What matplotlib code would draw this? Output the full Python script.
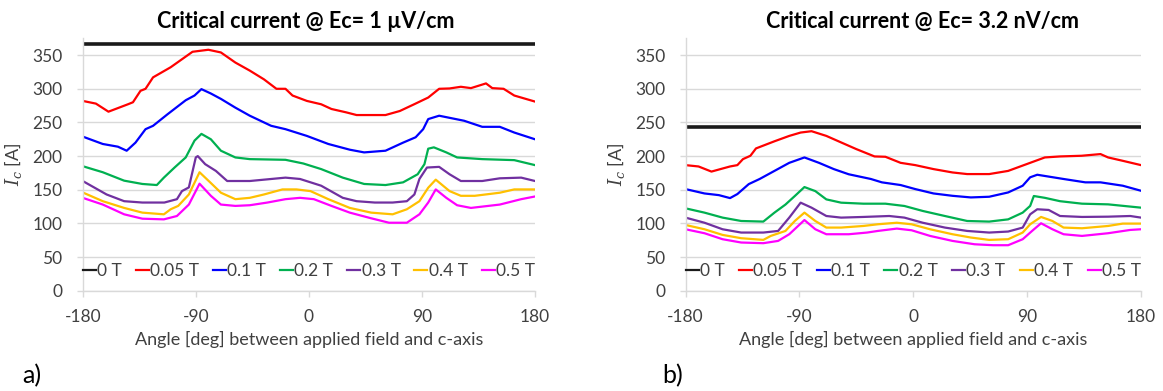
import matplotlib
matplotlib.use("Agg")
import matplotlib.pyplot as plt
from matplotlib.lines import Line2D

plt.rcParams["font.family"] = ["Lato", "DejaVu Sans"]
plt.rcParams["mathtext.fontset"] = "dejavuserif"
plt.rcParams["axes.unicode_minus"] = False

# ---- panel a) Ec = 1 uV/cm ----
a_0T_val = 366
a_005_ang = [-180, -169.5, -159.5, -144, -140, -134, -130, -124, -110, -92.6, -80, -70, -58.5, -47,
             -35.7, -25.8, -18.6, -13, -1.6, 9.8, 18, 29.7, 38, 61, 72.4, 83.8, 95, 103.7, 112, 121,
             129, 141, 146, 155, 163.5, 180]
a_005_val = [282, 278, 266, 277, 280, 297, 300, 317, 332, 355, 358, 354, 339, 327,
             314, 300, 300, 290, 282, 277, 270, 265, 261, 261, 267, 277, 287, 300, 300.5, 303,
             301, 308, 301, 300, 290, 281]
a_01_ang = [-180, -164, -152, -145, -138, -130, -124, -112.6, -98, -91, -85.5, -78, -70, -58.5, -47,
            -30, -18.6, -1.6, 15.5, 32.6, 44, 61, 75, 85, 91, 95, 103.7, 123.6, 138, 152, 163.5, 180]
a_01_val = [229, 218, 214, 208, 220, 240, 245, 262, 283, 290, 299.5, 293, 285, 272, 260,
            245, 240, 230, 218, 209.5, 205.5, 208, 220, 228, 240, 255, 260, 252.5, 243.5, 243.5, 235, 225]
a_02_ang = [-180, -164, -147, -132.5, -121, -115.4, -106.9, -98, -91, -85.5, -78, -70, -58.5, -47,
            -18.6, -4.4, 9.8, 27, 44, 61, 75, 86.6, 92, 95, 99.5, 109.4, 118, 138, 163.5, 180]
a_02_val = [185, 176, 163.5, 158.6, 157, 168, 183, 198, 223, 233, 225, 208, 198, 195.5,
            194.5, 189, 180.7, 168, 158.6, 157, 161, 173, 188, 211, 213, 205.5, 198, 195.5, 194, 186.6]
a_03_ang = [-180, -161, -147, -132.5, -115, -105, -101, -95.5, -90, -88.4, -82.5, -74, -65, -47,
            -18.6, -7, 9.8, 27, 38, 52.5, 66.7, 78, 84, 88, 94, 103.7, 112, 121, 138, 152, 169, 180]
a_03_val = [163, 143, 133, 131, 131, 136, 148, 153.5, 198, 200, 188, 178, 163, 163,
            168, 166, 156, 138, 133, 131, 131, 133, 143, 166, 183, 184, 173, 163, 163, 167, 168, 163]
a_04_ang = [-180, -164, -147, -132.5, -115.4, -110, -104, -95.5, -87, -78, -70, -58.5, -47, -35.7,
            -21, -9.9, 1.3, 15.5, 32.6, 49.6, 66.7, 78, 88, 95, 101, 112, 121, 132, 152, 163.5, 180]
a_04_val = [146, 133, 123, 116, 113.5, 121, 126, 143, 176, 160, 145.6, 136, 138, 143,
            150.5, 150.5, 148, 136, 123, 116, 113.5, 121, 133, 153, 165, 148, 141, 141, 145.6, 150.5, 150.5]
a_05_ang = [-180, -164, -147, -132.5, -115.4, -105, -95.5, -87, -78, -70, -58.5, -47, -33, -18.6,
            -7, 4, 18, 32.6, 49.6, 63.8, 78, 88, 95, 101, 109.4, 118, 129, 152, 169, 180]
a_05_val = [138, 128, 113.5, 107, 106, 111, 128, 159, 141, 128, 126, 127, 131, 136,
            138, 136, 126, 116, 107.6, 101, 101, 113.5, 131, 150.5, 138, 127, 123, 128, 136, 140]

# ---- panel b) Ec = 3.2 nV/cm ----
b_0T_val = 243
b_005_ang = [-180, -169.7, -159.5, -144.8, -139, -134.6, -128.7, -124.3, -109.7, -98, -89, -80.4,
             -68.7, -57, -45, -30.6, -22, -10, 1.6, 16, 31, 42.6, 60, 75, 89.5, 104, 116, 133,
             148, 154, 165.6, 180]
b_005_val = [186.6, 184.6, 177, 184.6, 186.6, 195.5, 200.5, 211.4, 222, 230, 235, 237,
             230, 220.3, 210.4, 199.5, 199, 190, 186.6, 180.7, 175.7, 173.3, 173.3, 178, 188, 198, 199.5, 200.5,
             203, 198, 193, 186.6]
b_01_ang = [-180, -165, -153.6, -144.8, -139, -130, -121.4, -109.7, -98, -86, -74.5, -62.8, -51,
            -33.5, -24.8, -10, 1.6, 16, 31, 45.5, 60, 75, 86.5, 92.4, 98, 118.8, 136, 148, 165.6, 180]
b_01_val = [151, 144.5, 142, 137.6, 143.6, 158.4, 166, 178, 190, 198, 190, 180.7, 173,
            166, 161, 157, 151, 144.5, 141, 138.6, 139.6, 146, 156, 168.5, 172.3, 166, 161, 161, 156, 148.5]
b_02_ang = [-180, -165, -150.7, -136, -118.5, -109.7, -101, -93.6, -86, -77.4, -68.7, -57, -39.4,
            -22, -7, 7.5, 25, 42.6, 60, 75, 86.5, 92.4, 95.3, 104, 116, 133.4, 154, 180]
b_02_val = [122.4, 116, 108.6, 103.6, 102.7, 116, 128, 140.7, 154, 148, 135.7, 130.8, 129.3,
            129.3, 125.9, 118.5, 111, 103.6, 102.7, 106, 116, 126, 140.7, 138, 133, 129.3, 128.3, 123.4]
b_03_ang = [-180, -165, -150.7, -136, -118.5, -106.8, -98, -89, -80.4, -68.7, -57, -39.4, -19,
            -7, 7.5, 25, 42.6, 60, 75, 86.5, 92.4, 98, 107, 116, 133.4, 154, 171.5, 180]
b_03_val = [108.6, 101, 91.3, 86.4, 86.4, 88.8, 108.6, 130.8, 123.4, 111, 108.6, 109.6, 111,
            108.6, 101, 93.8, 88.8, 86.4, 87.9, 93.8, 113.5, 121, 120, 111, 109.6, 110, 111, 108.6]
b_04_ang = [-180, -165, -150.7, -136, -118.5, -112.6, -101, -93.6, -86, -77.4, -68.7, -57, -39.4,
            -28, -13, -1.3, 13.3, 31, 45.5, 60, 75, 86.5, 92.4, 101, 110, 118.8, 133.4, 154, 165.6, 180]
b_04_val = [97.7, 91.3, 82.9, 78, 75.5, 81.4, 88.8, 103.6, 116, 103.6, 93.8, 93.8, 96.2,
            98.7, 101, 98.7, 91.3, 83.9, 79, 75.5, 76.5, 86.4, 98.7, 109.6, 103.6, 93.8, 92.8, 96.2, 99.7, 99.7]
b_05_ang = [-180, -165, -150.7, -136, -118.5, -106.8, -98, -86, -77.4, -68.7, -51, -36.5, -28,
            -13, -1.3, 13.3, 31, 48.5, 63, 75, 86.5, 93.9, 101, 110, 118.8, 133.4, 154, 171.5, 180]
b_05_val = [91.3, 85.4, 76.5, 71.6, 70.6, 74, 83.9, 105, 91.3, 83.9, 83.9, 86.4, 88.8,
            92.3, 89.8, 81.4, 74, 69, 67.6, 67.6, 76.5, 88.8, 100.2, 91.3, 83.9, 81.4, 85.4, 90.3, 91.3]

labels = ["0 T", "0.05 T", "0.1 T", "0.2 T", "0.3 T", "0.4 T", "0.5 T"]
colors = ["#1A1A1A", "#FF0000", "#0000FF", "#00B050", "#7030A0", "#FFC000", "#FF00FF"]
titles = ["Critical current @ Ec= 1 µV/cm", "Critical current @ Ec= 3.2 nV/cm"]
xticks = [-180, -90, 0, 90, 180]
yticks = list(range(0, 351, 50))

panels = [
    (a_0T_val, [(a_005_ang, a_005_val), (a_01_ang, a_01_val), (a_02_ang, a_02_val),
                (a_03_ang, a_03_val), (a_04_ang, a_04_val), (a_05_ang, a_05_val)]),
    (b_0T_val, [(b_005_ang, b_005_val), (b_01_ang, b_01_val), (b_02_ang, b_02_val),
                (b_03_ang, b_03_val), (b_04_ang, b_04_val), (b_05_ang, b_05_val)]),
]

W, H = 1163, 391
fig = plt.figure(figsize=(W / 100, H / 100), dpi=100)
axes = [fig.add_axes([82.7 / W, 0.2565, 452.3 / W, 0.6455]),
        fig.add_axes([685.5 / W, 0.2565, 455.5 / W, 0.6455])]
title_x = [306, 923]
panel_tags = [("a)", 22), ("b)", 662)]

grey = "#D9D9D9"
txt = "#404040"
handles = [Line2D([], [], color=c, lw=1.6) for c in colors]
for ax, (flat, series), title, tx, (tag, tagx) in zip(axes, panels, titles, title_x, panel_tags):
    ax.plot([-180, 180], [flat, flat], color=colors[0], lw=2.6)
    for (ang, val), col in zip(series, colors[1:]):
        ax.plot(ang, val, color=col, lw=1.6)
    ax.set_xlim(-180, 180)
    ax.set_ylim(0, 375)
    ax.set_xticks(xticks)
    ax.set_yticks(yticks)
    ax.grid(axis="y", color=grey, lw=1.0)
    ax.set_axisbelow(True)
    for s in ["top", "right"]:
        ax.spines[s].set_visible(False)
    for s in ["left", "bottom"]:
        ax.spines[s].set_color(grey)
        ax.spines[s].set_linewidth(1.0)
    ax.tick_params(axis="y", length=4.5, width=1.0, color=grey, labelsize=12.5, labelcolor=txt, pad=10)
    ax.tick_params(axis="x", length=4.5, width=1.0, color=grey, labelsize=12.5, labelcolor=txt, pad=9)
    ax.set_xlabel("Angle [deg] between applied field and c-axis", fontsize=13, color=txt, labelpad=4)
    ax.set_ylabel("$I_c$ [A]", fontsize=13, color=txt, labelpad=6)
    ax.legend(handles, labels, loc="center", bbox_to_anchor=(0, 0.079, 1, 0), mode="expand",
              ncol=7, frameon=False, fontsize=12.5, handlelength=0.75, handletextpad=0.08,
              borderpad=0, borderaxespad=0, labelcolor=txt)
    fig.text(tx / W, 1 - 28 / H, title, fontsize=15.5, fontweight="bold", color="black",
             ha="center", va="baseline")
    fig.text(tagx / W, 1 - 383 / H, tag, fontsize=18, color="black", va="baseline")

fig.savefig("out.png", dpi=100)
